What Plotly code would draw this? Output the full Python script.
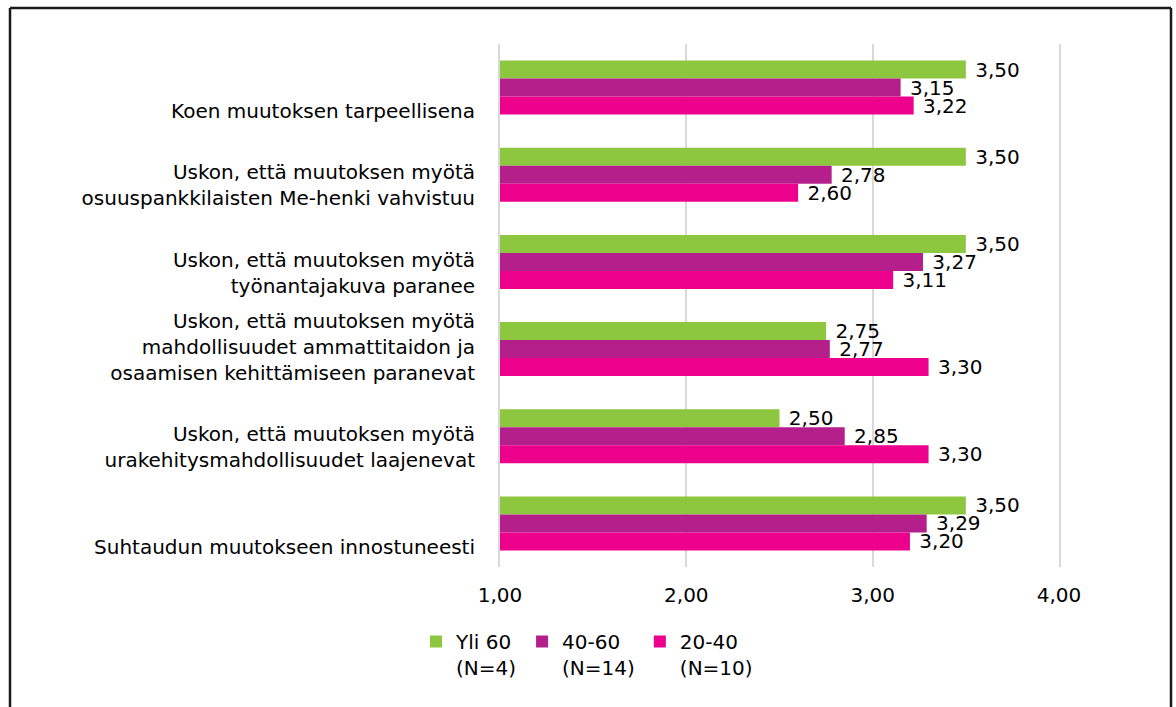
import plotly.graph_objects as go

categories = [
    "Koen muutoksen tarpeellisena",
    "Uskon, että muutoksen myötä<br>osuuspankkilaisten Me-henki vahvistuu",
    "Uskon, että muutoksen myötä<br>työnantajakuva paranee",
    "Uskon, että muutoksen myötä<br>mahdollisuudet ammattitaidon ja<br>osaamisen kehittämiseen paranevat",
    "Uskon, että muutoksen myötä<br>urakehitysmahdollisuudet laajenevat",
    "Suhtaudun muutokseen innostuneesti",
]
series_names = ["Yli 60<br>(N=4)", "40-60<br>(N=14)", "20-40<br>(N=10)"]
yli60 = [3.50, 3.50, 3.50, 2.75, 2.50, 3.50]
v40_60 = [3.15, 2.78, 3.27, 2.77, 2.85, 3.29]
v20_40 = [3.22, 2.60, 3.11, 3.30, 3.30, 3.20]
colors = ["#8DC63F", "#B41F8C", "#EC008C"]
x_ticks = [1, 2, 3, 4]

W, H = 1176, 707
ML, MR, MT, MB = 500, 117, 44, 140
PW, PH = W - ML - MR, H - MT - MB
FONT = "DejaVu Sans"
FS = 20
GRID = "#D9D9D9"

fig = go.Figure()
for name, vals, col in zip(series_names, [yli60, v40_60, v20_40], colors):
    fig.add_trace(go.Bar(
        y=categories, x=vals, orientation="h", name=name,
        marker=dict(color=col, line=dict(width=0)),
        texttemplate="\u00a0%{x:.2f}", textposition="outside",
        textfont=dict(family=FONT, size=FS, color="black"),
        constraintext="none", cliponaxis=False,
    ))

# label positions on an overlay axis: bottom-aligned inside each category slot
n = len(categories)
unit_px = PH / n
line_h = 1.3 * FS
label_pos = []
for i, c in enumerate(categories):
    nl = c.count("<br>") + 1
    label_pos.append(i + 0.5 - (nl * line_h / 2 + 7) / unit_px)

fig.add_trace(go.Scatter(x=[None], y=[None], yaxis="y2", showlegend=False, hoverinfo="skip"))

fig.update_layout(
    width=W, height=H,
    margin=dict(l=ML, r=MR, t=MT, b=MB),
    barmode="group", bargap=0.38, bargroupgap=0,
    separators=", ",
    paper_bgcolor="white", plot_bgcolor="white",
    font=dict(family=FONT, size=FS, color="black"),
    xaxis=dict(range=[1, 4], tickvals=x_ticks, tickformat=".2f",
               showgrid=True, gridcolor=GRID, gridwidth=1.5,
               zeroline=False, showline=False, ticks="",
               ticklabelstandoff=14, tickfont=dict(family=FONT, size=FS)),
    yaxis=dict(range=[n - 0.5, -0.5], showticklabels=False, showgrid=False,
               zeroline=False, showline=True, linecolor=GRID, linewidth=1.5,
               mirror=True, ticks=""),
    yaxis2=dict(overlaying="y", side="left", range=[n - 0.5, -0.5],
                tickvals=label_pos, ticktext=categories, showgrid=False,
                zeroline=False, showline=False, ticks="",
                ticklabelstandoff=24, tickfont=dict(family=FONT, size=FS)),
    legend=dict(orientation="h", x=(416 - ML) / PW, xanchor="left",
                y=-(622 - (MT + PH)) / PH, yanchor="top",
                valign="top", traceorder="normal",
                font=dict(family=FONT, size=FS), itemclick=False),
    showlegend=True,
)

def px_x(p):
    return (p - ML) / PW

def px_y(p):
    return 1 - (p - MT) / PH

border = dict(color="#1a1a1a", width=2.5)
fig.add_shape(type="line", xref="paper", yref="paper", x0=px_x(10), x1=px_x(10), y0=px_y(8), y1=px_y(720), line=border)
fig.add_shape(type="line", xref="paper", yref="paper", x0=px_x(10), x1=px_x(1171), y0=px_y(8), y1=px_y(8), line=border)
fig.add_shape(type="line", xref="paper", yref="paper", x0=px_x(1171), x1=px_x(1171), y0=px_y(8), y1=px_y(720), line=border)

fig.write_html("out.html", config={"displayModeBar": False},
               post_script="document.body.style.margin='0';")
